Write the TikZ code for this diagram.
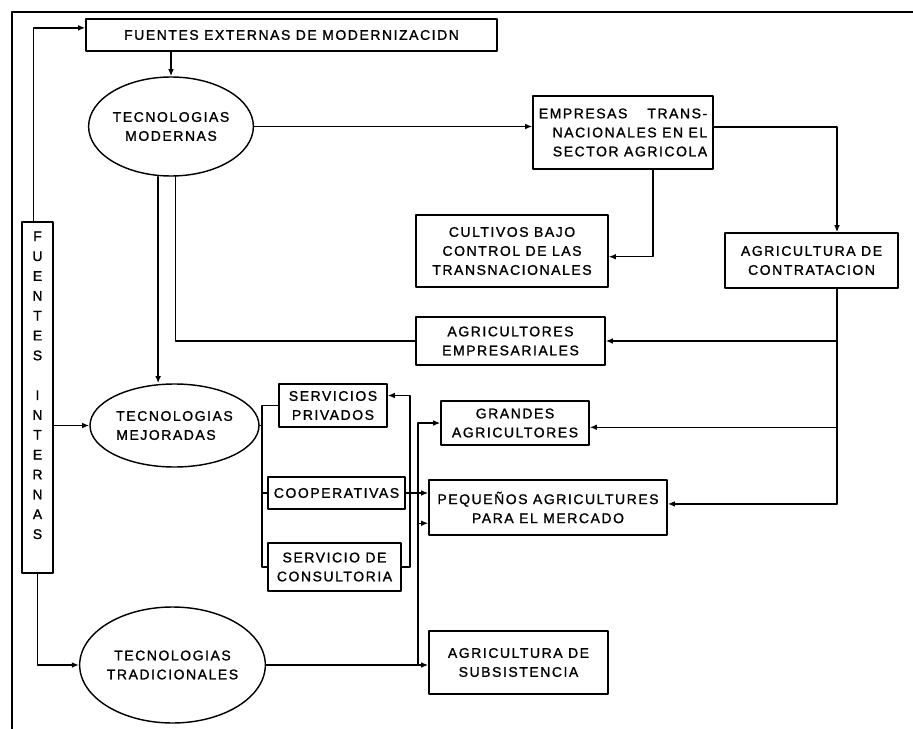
\documentclass[tikz,border=0pt]{standalone}
\usepackage{fontspec}
\setmainfont{Liberation Sans}[LetterSpace=11,FakeBold=1.2]
\usetikzlibrary{shapes.geometric}
\usetikzlibrary{arrows.meta,calc}
\tikzstyle{every node}=[font=\fontsize{9.8}{13.3}\selectfont]
\tikzstyle{every path}=[line width=1pt,line cap=round,line join=round]
\tikzstyle{box}=[draw,rectangle,inner sep=2pt,align=center]
\tikzstyle{oval}=[draw,ellipse,inner sep=0pt,align=center]
\tikzstyle{arr}=[-{Latex[length=5pt,width=4pt]}]
\tikzset{sz/.style 2 args={minimum width=#1*0.7pt,minimum height=#2*0.7pt}}

\begin{document}
\begin{tikzpicture}[x=0.7pt,y=-0.7pt]
\fill[white] (0,0) rectangle (913,729);
\useasboundingbox (0,0) rectangle (913,729);
% marco
\draw[line width=2pt] (12,729) -- (12,12) -- (913,12);

\node[box,sz={411}{32}] (extern) at (291.5,35) {FUENTES EXTERNAS DE MODERNIZACIDN};
\node[oval,sz={160}{99}] (modern) at (171,126.5) {TECNOLOGIAS\\MODERNAS};
\node[box,sz={180}{73},align=right] (empresas) at (623,132.5)
  {EMPRESAS\hspace{14pt}TRANS-\\NACIONALES EN EL\\SECTOR AGRICOLA};
\node[box,sz={192}{72}] (cultivos) at (512,251) {CULTIVOS BAJO\\CONTROL DE LAS\\TRANSNACIONALES};
\node[box,sz={173}{55}] (contrat) at (811.5,260.5) {AGRICULTURA DE\\CONTRATACION};
\node[box,sz={189}{48}] (empres) at (510.5,341) {AGRICULTORES\\EMPRESARIALES};

\node[box,sz={31}{351},inner sep=0pt,font=\fontsize{9.8}{13.9}\selectfont] (internas) at (37.5,397.5)
  {\raisebox{8pt}[\height][\depth]{\begin{tabular}{@{}c@{}}
   F\\U\\E\\N\\T\\E\\S\\ \\I\\N\\T\\E\\R\\N\\A\\S
   \end{tabular}}};

\node[oval,sz={169}{83},align=left] (mejor) at (174.5,425.5) {TECNOLOGIAS\\MEJORADAS};
\node[box,sz={108}{43}] (privados) at (333,405.5) {SERVICIOS\\PRIVADOS};
\node[box,sz={148}{44}] (grandes) at (515,423) {GRANDES\\AGRICULTORES};
\node[box,sz={137}{32}] (coop) at (336.5,493) {COOPERATIVAS};
\node[box,sz={238}{55}] (pequenos) at (548,507.5) {PEQUEÑOS AGRICULTURES\\PARA EL MERCADO};
\node[box,sz={133}{48}] (consult) at (334.5,567) {SERVICIO DE\\CONSULTORIA};
\node[box,sz={179}{63}] (subsist) at (518.5,662.5) {AGRICULTURA DE\\SUBSISTENCIA};
\node[oval,sz={185}{116}] (tradic) at (172.5,665) {TECNOLOGIAS\\TRADICIONALES};

% lineas verticales
\coordinate (cbus) at (837,0);
\coordinate (lbus) at (262,0);
\coordinate (rbus) at (410,0);
\coordinate (gbus) at (418,0);
\coordinate (pinP) at ([yshift=7pt]privados.east);
\coordinate (pinQ) at ([yshift=-11pt]pequenos.west);

% arriba
\draw[arr] ([xshift=-3pt]internas.north) |- ([yshift=5pt]extern.west);
\draw[arr] (extern.south -| modern.north) -- (modern.north);
\draw[arr] (modern.east) -- (modern.east -| empresas.west);
\draw[arr] ([yshift=4pt]empresas.east) -| (cbus |- contrat.north);
\draw[arr] ([xshift=21pt]empresas.south) |- ([yshift=-4pt]cultivos.east);
\draw[arr] ([xshift=-9pt]modern.south) -- ([xshift=-9pt]modern.south |- mejor.north);
\draw ([xshift=3pt]modern.south) |- (empres.west);

% agricultura de contratacion
\draw (cbus |- contrat.south) -- ([yshift=2.5pt]cbus |- pequenos.east);
\draw[arr] (cbus |- empres.east) -- (empres.east);
\draw[arr] ([yshift=-3pt]cbus |- grandes.east) -- ([yshift=-3pt]grandes.east);
\draw[arr] ([yshift=2.5pt]cbus |- pequenos.east) -- ([yshift=2.5pt]pequenos.east);

% fuentes internas
\draw[arr] (internas.east |- mejor.west) -- (mejor.west);
\draw[arr] (internas.south) |- (tradic.west);

% servicios
\draw (mejor.east) -- (mejor.east -| lbus);
\draw (privados.west) -| (lbus |- consult.west) -- (consult.west);
\draw (coop.west) -- (coop.west -| lbus);
\draw[arr] (consult.east) -| (rbus |- pinP) -- (pinP);
\draw[arr] (coop.east) -- (coop.east -| pequenos.west);

% tradicionales
\draw[arr] (tradic.east) -- (tradic.east -| subsist.west);
\draw[arr] (gbus |- tradic.east) |- (pinQ);
\draw[arr] (gbus |- pinQ) |- (grandes.west);
\end{tikzpicture}
\end{document}
